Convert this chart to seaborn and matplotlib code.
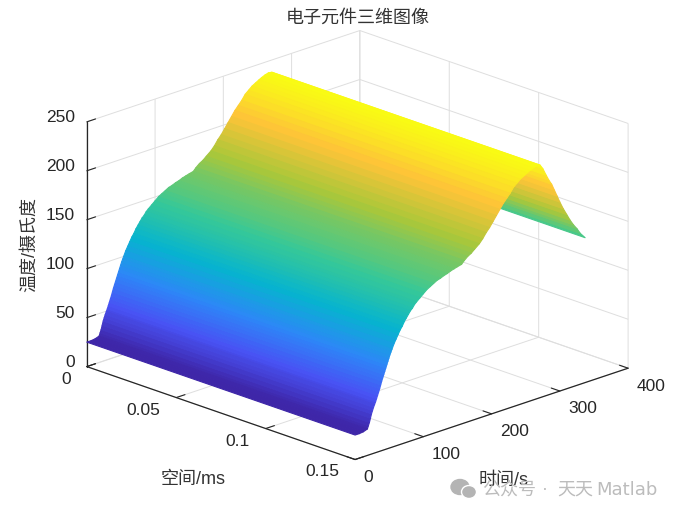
import numpy as np
import matplotlib
matplotlib.use('Agg')
import matplotlib.pyplot as plt
import seaborn as sns
from matplotlib.patches import Ellipse

# values
space_ms = [0, 0.15]
time_s = [0, 6, 12, 18, 19.5, 21, 22.5, 24, 25.5, 27, 28.5, 30, 31.5, 33, 34.5, 36, 37.5, 39, 40.5, 42,
          43.5, 45, 46.5, 48, 49.5, 51, 52.5, 54, 57, 60, 63, 66,
          69, 72, 75, 78, 81, 84, 87, 90, 95, 100, 105, 110, 115, 120, 125, 130, 135, 140, 145, 150,
          156, 160, 165, 170, 175, 182, 187, 192, 197, 202, 207, 212, 217, 222, 227, 232, 237, 242, 247, 252,
          256, 261, 266, 271, 275, 280, 284, 288, 292, 296, 300, 305, 310, 315, 320, 325, 330, 337]
temp_c = [25, 25, 25.5, 27, 30, 33, 37, 41, 44, 47, 49.5, 52, 55, 58, 61, 64, 67.5, 71, 74, 77,
          80, 83, 86, 89, 92, 95, 97.5, 100, 105, 109, 113, 117,
          120, 124, 127, 130, 133, 135, 138, 140, 143, 146, 149, 151, 153, 155, 156, 157.5, 158.5, 160, 161, 162,
          163, 166, 169, 171, 174, 178, 182, 187, 191, 196, 201, 206, 211, 215, 219, 224, 227, 230, 232, 234,
          235.5, 237, 238, 237.5, 233, 225, 219, 214, 207, 200, 193, 185, 178, 171, 165, 160, 154, 148]
x_ticks = [0, 0.05, 0.1, 0.15]
x_ticklabels = ['0', '0.05', '0.1', '0.15']
y_ticks = [0, 100, 200, 300, 400]
z_ticks = [0, 50, 100, 150, 200, 250]

parula = ['#3e26a8', '#4852f4', '#2d87f7', '#06b4cf', '#37c897', '#abc739', '#fec338', '#f9fb14']

W, H = 678, 516
sns.set_theme(style='white')
plt.rcParams['font.family'] = ['Liberation Sans', 'Noto Sans CJK SC']
cmap = sns.blend_palette(parula, as_cmap=True)

fig = plt.figure(figsize=(W / 100, H / 100), dpi=100)
ax = fig.add_axes([92.5 / W, 6 / H, 516 / W, 516 / H], projection='3d')
ax.patch.set_visible(False)
ax.set_proj_type('ortho')
ax.view_init(elev=19.9, azim=-44.5)
ax.set_box_aspect((1, 1, 0.68), zoom=1.13)

X, Y = np.meshgrid(space_ms, time_s)
Z = np.tile(np.array(temp_c)[:, None], (1, len(space_ms)))
mid = np.vstack(((Z[:-1] + Z[1:]) / 2, Z[-1:]))
colors = cmap(plt.Normalize(25, 238)(mid))
surf = ax.plot_surface(X, Y, Z, facecolors=colors, rstride=1, cstride=1,
                       linewidth=0.8, antialiased=True, shade=False)
# the axes box is narrower than the left corner of the plot
surf.set_clip_on(False)

ax.set_xlim(0, 0.15)
ax.set_ylim(0, 400)
ax.set_zlim(0, 250)
ax.set_xticks(x_ticks)
ax.set_xticklabels(x_ticklabels)
ax.set_yticks(y_ticks)
ax.set_zticks(z_ticks)
ax.tick_params(labelsize=12.5, labelcolor='#262626')
ax.tick_params(axis='x', pad=3.5)
ax.tick_params(axis='y', pad=-2)
ax.tick_params(axis='z', pad=-3.7)
ax.zaxis.set_ticks_position('lower')

for t in ax.get_xticklabels():
    t.set_ha('right')
    t.set_va('bottom')
for t in ax.get_yticklabels():
    t.set_ha('left')
for t in ax.get_zticklabels():
    t.set_va('baseline')
    t.set_ha('right')

for axis in (ax.xaxis, ax.yaxis, ax.zaxis):
    axis.set_pane_color((1, 1, 1, 0))
    axis.pane.set_edgecolor((1, 1, 1, 0))
    axis._axinfo['grid'].update(color='#dedede', linewidth=0.7, linestyle='-')
    axis._axinfo['axisline']['color'] = '#262626'
    axis._axinfo['tick'].update(inward_factor=0, outward_factor=0.4, color='#262626')
    axis._axinfo['tick']['linewidth'] = {True: 0.8, False: 0.8}
    axis.line.set_linewidth(0.9)

cjk = ['Liberation Sans', 'Noto Sans CJK SC']
fig.text(358 / W, 1 - 18.5 / H, '电子元件三维图像', ha='center', va='center', fontsize=13, color='#333333', family=cjk)
fig.text(193 / W, 1 - 479.5 / H, '空间/ms', ha='center', va='center', fontsize=13, color='#333333', family=cjk)
fig.text(504 / W, 1 - 480 / H, '时间/s', ha='center', va='center', fontsize=13, color='#333333', family=cjk)
fig.text(30 / W, 1 - 245 / H, '温度/摄氏度', ha='center', va='center', rotation=90, fontsize=13, color='#333333', family=cjk)

# watermark
fig.text(482 / W, 1 - 490 / H, '公众号', ha='left', va='center', fontsize=13, color='#bcbcbc', family=cjk)
fig.text(545 / W, 1 - 490 / H, '·', ha='center', va='center', fontsize=13, color='#bcbcbc', family=cjk)
fig.text(557 / W, 1 - 490 / H, '天天', ha='left', va='center', fontsize=13, color='#bcbcbc', family=cjk)
fig.text(596 / W, 1 - 490 / H, 'Matlab', ha='left', va='center', fontsize=13, color='#bcbcbc', family='DejaVu Sans')
fig.add_artist(Ellipse((460 / W, 1 - 487 / H), 18 / W, 15 / H, color='#b4b4b4', transform=fig.transFigure))
fig.add_artist(Ellipse((469 / W, 1 - 492 / H), 15 / W, 13 / H, color='#b4b4b4', ec='white', lw=1, transform=fig.transFigure))

fig.savefig('out.png', dpi=100)
